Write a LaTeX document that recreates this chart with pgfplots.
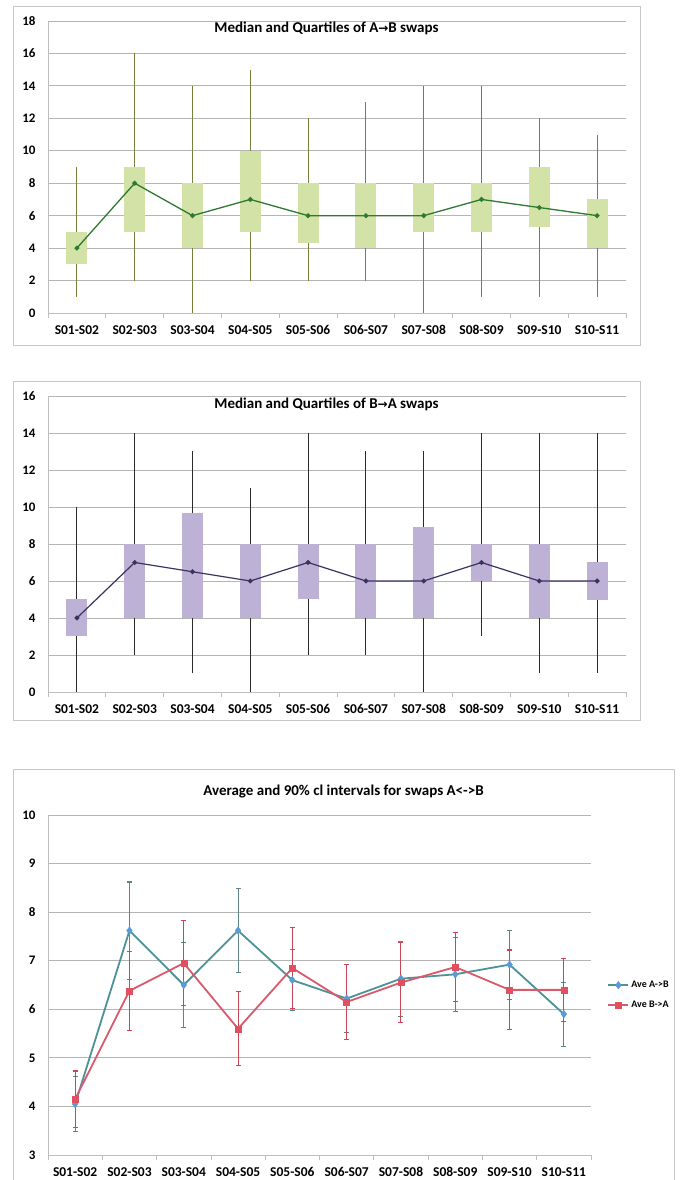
\documentclass[border=0pt]{standalone}
\usepackage{pgfplots}
\pgfplotsset{compat=1.18}
\usepackage{fontspec}
\setmainfont{Carlito}
\newfontfamily\dejavu{DejaVu Sans}
\definecolor{framec}{HTML}{C8C8C8}
\definecolor{gridc}{HTML}{B4B4B4}
\definecolor{axisc}{HTML}{BEBEBE}
\definecolor{boxg}{HTML}{D3E2A6}
\definecolor{whiskg}{HTML}{75803A}
\definecolor{medg}{HTML}{2F7A30}
\definecolor{boxp}{HTML}{BDB2D6}
\definecolor{whiskp}{HTML}{2A2A2A}
\definecolor{medp}{HTML}{3A3360}
\definecolor{lineA}{HTML}{4C9297}
\definecolor{markA}{HTML}{5B9BD5}
\definecolor{errA}{HTML}{5E8486}
\definecolor{lineB}{HTML}{D95A6C}
\definecolor{markB}{HTML}{E0505E}
\definecolor{errB}{HTML}{C94558}
\pgfplotsset{
  common/.style={
    scale only axis, clip=false,
    xmin=-0.5, xmax=9.5,
    xtick={0,...,9},
    xticklabels={S01-S02,S02-S03,S03-S04,S04-S05,S05-S06,S06-S07,S07-S08,S08-S09,S09-S10,S10-S11},
    minor xtick={-0.5,0.5,...,9.5},
    ymajorgrids, major grid style={gridc, line width=0.8pt},
    axis x line*=bottom, axis y line*=left,
    axis line style={axisc, line width=0.8pt},
    major tick length=0pt, minor tick length=5pt, tick align=outside,
    minor tick style={axisc, line width=0.8pt},
    x tick label style={font=\bfseries\fontsize{13.5}{15}\selectfont, yshift=-9pt},
    y tick label style={font=\bfseries\fontsize{13}{15}\selectfont, xshift=-9pt},
    /pgf/number format/assume math mode=true,
  },
  whisk/.style={draw=none, mark=none, forget plot,
    error bars/.cd, y dir=minus, y explicit, error mark=none,
    error bar style={draw=#1, line width=1.1pt}},
  box/.style={draw=none, mark=none, forget plot,
    error bars/.cd, y dir=minus, y explicit, error mark=none,
    error bar style={draw=#1, line width=21pt}},
}
\begin{document}
\begin{tikzpicture}[x=1pt,y=1pt]
\useasboundingbox (0,0) rectangle (688,1180);
\fill[white] (0,0) rectangle (688,1180);
\draw[framec, line width=0.9pt] (13,835) rectangle (640,1174);
\draw[framec, line width=0.9pt] (13,460) rectangle (640,799);
\draw[framec, line width=0.9pt] (13,-5) rectangle (674,411);

% ---------- Panel 1 ----------
\begin{axis}[common, at={(48pt,867pt)}, anchor=south west,
  width=578pt, height=292pt, ymin=0, ymax=18, ytick={0,2,...,18}]
\addplot[whisk=whiskg] coordinates {
 (0,9) -= (0,8)  (1,16) -= (0,14) (2,14) -= (0,14) (3,15) -= (0,13) (4,12) -= (0,10)
 (5,13) -= (0,11) (6,14) -= (0,14) (7,14) -= (0,13) (8,12) -= (0,11) (9,11) -= (0,10)};
\addplot[box=boxg] coordinates {
 (0,5) -= (0,2) (1,9) -= (0,4) (2,8) -= (0,4) (3,10) -= (0,5) (4,8) -= (0,3.7)
 (5,8) -= (0,4) (6,8) -= (0,3) (7,8) -= (0,3) (8,9) -= (0,3.7) (9,7) -= (0,3)};
\addplot[medg, line width=1.3pt, mark=*, mark size=1.8pt] coordinates {
 (0,4) (1,8) (2,6) (3,7) (4,6) (5,6) (6,6) (7,7) (8,6.5) (9,6)};
\end{axis}
\node[font=\bfseries\fontsize{15}{17}\selectfont] at (326.5,1152) {Median and Quartiles of A{\dejavu\bfseries\fontsize{12}{14}\selectfont→}B swaps};

% ---------- Panel 2 ----------
\begin{axis}[common, at={(48pt,488pt)}, anchor=south west,
  width=578pt, height=296pt, ymin=0, ymax=16, ytick={0,2,...,16}]
\addplot[whisk=whiskp] coordinates {
 (0,10) -= (0,10) (1,14) -= (0,12) (2,13) -= (0,12) (3,11) -= (0,11) (4,14) -= (0,12)
 (5,13) -= (0,11) (6,13) -= (0,13) (7,14) -= (0,11) (8,14) -= (0,13) (9,14) -= (0,13)};
\addplot[box=boxp] coordinates {
 (0,5) -= (0,2) (1,8) -= (0,4) (2,9.7) -= (0,5.7) (3,8) -= (0,4) (4,8) -= (0,3)
 (5,8) -= (0,4) (6,8.9) -= (0,4.9) (7,8) -= (0,2) (8,8) -= (0,4) (9,7) -= (0,2.05)};
\addplot[medp, line width=1.2pt, mark=*, mark size=1.8pt] coordinates {
 (0,4) (1,7) (2,6.5) (3,6) (4,7) (5,6) (6,6) (7,7) (8,6) (9,6)};
\end{axis}
\node[font=\bfseries\fontsize{15}{17}\selectfont] at (326.5,776) {Median and Quartiles of B{\dejavu\bfseries\fontsize{12}{14}\selectfont→}A swaps};

% ---------- Panel 3 ----------
\begin{axis}[common, at={(48pt,25pt)}, anchor=south west,
  width=543pt, height=340pt, ymin=3, ymax=10, ytick={3,...,10},
  legend style={at={(1.03,0.47)}, anchor=west, draw=none, fill=none,
    font=\bfseries\fontsize{10}{12}\selectfont, row sep=8pt,
    inner sep=0pt, cells={anchor=west}},
  legend image code/.code={\draw[#1, mark repeat=2, mark phase=2] plot coordinates {(0pt,0pt) (10pt,0pt) (20pt,0pt)};}]
\addplot[lineA, line width=1.8pt, mark=diamond*, mark size=3.8pt,
  mark options={fill=markA, draw=markA, line width=0.4pt},
  error bars/.cd, y dir=both, y explicit, error mark=|,
  error bar style={errA, line width=1pt},
  error mark options={errA, mark size=2.5pt, line width=1.1pt}] coordinates {
 (0,4.05) +- (0,0.57) (1,7.62) +- (0,1.0) (2,6.5) +- (0,0.88) (3,7.62) +- (0,0.87)
 (4,6.6) +- (0,0.63) (5,6.22) +- (0,0.70) (6,6.63) +- (0,0.77) (7,6.72) +- (0,0.76)
 (8,6.92) +- (0,0.71) (9,5.9) +- (0,0.66)};
\addlegendentry{Ave A->B}
\addplot[lineB, line width=1.8pt, mark=square*, mark size=3pt,
  mark options={fill=markB, draw=markB, line width=0.4pt},
  error bars/.cd, y dir=both, y explicit, error mark=|,
  error bar style={errB, line width=1pt},
  error mark options={errB, mark size=2.5pt, line width=1.1pt}] coordinates {
 (0,4.15) +- (0,0.58) (1,6.38) +- (0,0.81) (2,6.95) +- (0,0.87) (3,5.6) +- (0,0.76)
 (4,6.85) +- (0,0.83) (5,6.15) +- (0,0.77) (6,6.55) +- (0,0.82) (7,6.87) +- (0,0.71)
 (8,6.4) +- (0,0.82) (9,6.4) +- (0,0.65)};
\addlegendentry{Ave B->A}
\end{axis}
\node[font=\bfseries\fontsize{15}{17}\selectfont] at (343.5,388) {Average and 90\% cl intervals for swaps A<->B};
\end{tikzpicture}
\end{document}
